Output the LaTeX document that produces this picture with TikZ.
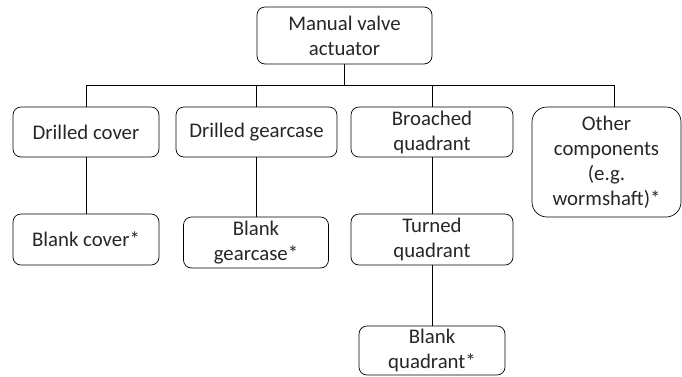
\documentclass[tikz,border=0pt]{standalone}
\usepackage{fontspec}
\setmainfont{Carlito}
\usepackage{tikz}

\begin{document}
\begin{tikzpicture}[x=1pt,y=-1pt,
  part/.style={draw,rounded corners=8pt,align=center,inner sep=0pt,
    text=black!85,font=\fontsize{20.8}{25}\selectfont},
  line width=0.7pt]
\useasboundingbox (0,0) rectangle (682,376);
\node[part,minimum width=175pt,minimum height=57pt] (root) at (344.5,35.5) {Manual valve\\actuator};
\node[part,minimum width=146pt,minimum height=50pt] (cover) at (86,132) {Drilled cover};
\node[part,minimum width=161pt,minimum height=50pt] (gearcase) at (256.5,132) {Drilled gearcase};
\node[part,minimum width=162pt,minimum height=50pt] (broached) at (432,132) {Broached\\quadrant};
\node[part,rounded corners=15pt,minimum width=149pt,minimum height=110pt] (other) at (606.5,162) {Other\\components\\(e.g.\\wormshaft)*};
\node[part,minimum width=146pt,minimum height=51pt] (bcover) at (86,239.5) {Blank cover*};
\node[part,minimum width=145pt,minimum height=51pt] (bgearcase) at (256,242.5) {Blank\\gearcase*};
\node[part,minimum width=162pt,minimum height=51pt] (turned) at (432,239.5) {Turned\\quadrant};
\node[part,minimum width=146pt,minimum height=49pt] (bquadrant) at (432,350.5) {Blank\\quadrant*};
\coordinate (fork) at (344.5,85);
\draw (root) -- (fork);
\foreach \n in {cover,gearcase,broached}
  \draw (fork) -| (\n.north);
\draw (fork) -| ([xshift=8pt]other.north);
\draw (cover) -- (bcover);
\draw (gearcase.south -| bgearcase.north) -- (bgearcase);
\draw (broached) -- (turned);
\draw (turned) -- (bquadrant);
\end{tikzpicture}
\end{document}
